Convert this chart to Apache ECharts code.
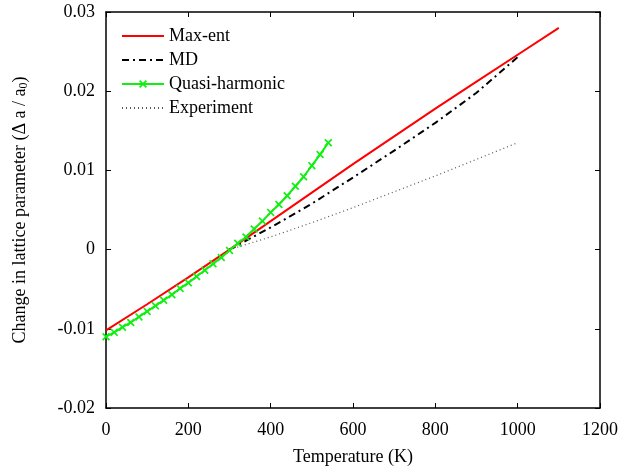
<!DOCTYPE html>
<html>
<head>
<meta charset="utf-8">
<script src="https://cdn.jsdelivr.net/npm/echarts@6/dist/echarts.min.js"></script>
<style>
  html, body { margin: 0; padding: 0; background: #fff; }
  #chart { width: 623px; height: 475px; }
</style>
</head>
<body>
<div id="chart"></div>
<script>
// values
const maxEntT = [0, 100, 200, 300, 400, 500, 600, 700, 800, 900, 1000, 1100];
const maxEntV = [-0.0102, -0.0069, -0.0035, 0.0000, 0.0036, 0.0072, 0.0108, 0.0143, 0.0178, 0.0212, 0.0246, 0.0280];

const mdT = [300, 400, 500, 600, 700, 800, 900, 1000];
const mdV = [0.0000, 0.0028, 0.0058, 0.0091, 0.0125, 0.0160, 0.0198, 0.0243];

const qhT = [0, 20, 40, 60, 80, 100, 120, 140, 160, 180, 200, 220, 240, 260,
             280, 300, 320, 340, 360, 380, 400, 420, 440, 460, 480, 500, 520, 540];
const qhV = [-0.0110, -0.01045, -0.0098, -0.0092, -0.0085, -0.0078, -0.0071, -0.0064,
             -0.0057, -0.0049, -0.0042, -0.0034, -0.0026, -0.0018, -0.0010, -0.0001,
             0.0008, 0.0016, 0.0026, 0.0036, 0.0047, 0.0057, 0.0068, 0.0080, 0.0092,
             0.0106, 0.0120, 0.0135];

const expT = [300, 400, 500, 600, 700, 800, 900, 1000];
const expV = [0.0000, 0.0016, 0.0034, 0.0053, 0.0073, 0.0093, 0.0114, 0.0135];

const xTicks = [0, 200, 400, 600, 800, 1000, 1200];
const yTicks = [-0.02, -0.01, 0, 0.01, 0.02, 0.03];

const font = 'Liberation Serif';
const zip = (a, b) => a.map((t, i) => [t, b[i]]);
const xMark = 'path://M1.5,0 L5,3.5 L8.5,0 L10,1.5 L6.5,5 L10,8.5 L8.5,10 L5,6.5 L1.5,10 L0,8.5 L3.5,5 L0,1.5 Z';

const chart = echarts.init(document.getElementById('chart'));

const axisLine = { show: true, onZero: false, lineStyle: { color: '#000', width: 1.5 } };
const tick = { show: true, inside: true, length: 5, lineStyle: { color: '#000', width: 1 } };
const noMark = { opacity: 0 };

chart.setOption({
    animation: false,
    backgroundColor: '#fff',
    grid: { left: 106, right: 23, top: 12, bottom: 67 },
    legend: {
        orient: 'vertical',
        left: 116,
        top: 22,
        itemWidth: 42,
        itemHeight: 10,
        itemGap: 6,
        textStyle: { fontFamily: font, fontSize: 18, color: '#000' },
        data: [
            { name: 'Max-ent', itemStyle: noMark },
            { name: 'MD', itemStyle: noMark },
            { name: 'Quasi-harmonic' },
            { name: 'Experiment', itemStyle: noMark }
        ]
    },
    xAxis: [{
        type: 'value', min: xTicks[0], max: xTicks[xTicks.length - 1], interval: 200,
        name: 'Temperature (K)', nameLocation: 'middle', nameGap: 40,
        nameTextStyle: { fontFamily: font, fontSize: 18, color: '#000' },
        axisLine: axisLine, axisTick: tick, splitLine: { show: false },
        axisLabel: { fontFamily: font, fontSize: 18, color: '#000', margin: 13, formatter: v => String(v) }
    }, {
        type: 'value', position: 'top', min: 0, max: 1200, interval: 200,
        axisLine: axisLine, axisTick: tick, splitLine: { show: false },
        axisLabel: { show: false }
    }],
    yAxis: [{
        type: 'value', min: yTicks[0], max: yTicks[yTicks.length - 1], interval: 0.01,
        name: '{n|Change in lattice parameter (Δ a / a}{s|0}{n|)}',
        nameLocation: 'middle', nameGap: 76, nameRotate: 90,
        nameTextStyle: {
            color: '#000',
            rich: {
                n: { fontFamily: font, fontSize: 18, color: '#000' },
                s: { fontFamily: font, fontSize: 12, color: '#000', padding: [8, 0, 0, 0] }
            }
        },
        axisLine: axisLine, axisTick: tick, splitLine: { show: false },
        axisLabel: {
            fontFamily: font, fontSize: 18, color: '#000', margin: 11,
            formatter: v => Math.abs(v) < 1e-9 ? '0' : v.toFixed(2)
        }
    }, {
        type: 'value', position: 'right', min: -0.02, max: 0.03, interval: 0.01,
        axisLine: axisLine, axisTick: tick, splitLine: { show: false },
        axisLabel: { show: false }
    }],
    series: [{
        name: 'Max-ent', type: 'line', data: zip(maxEntT, maxEntV),
        showSymbol: false, symbol: 'none',
        lineStyle: { color: '#ff0000', width: 2 }, itemStyle: { color: '#ff0000' }, z: 3
    }, {
        name: 'MD', type: 'line', data: zip(mdT, mdV),
        showSymbol: false, symbol: 'none',
        lineStyle: { color: '#000', width: 2, type: [7, 4, 2, 4] }, itemStyle: { color: '#000' }, z: 2
    }, {
        name: 'Quasi-harmonic', type: 'line', data: zip(qhT, qhV),
        symbol: xMark, symbolSize: 8,
        lineStyle: { color: '#11ee11', width: 2 }, itemStyle: { color: '#11ee11' }, z: 4
    }, {
        name: 'Experiment', type: 'line', data: zip(expT, expV),
        showSymbol: false, symbol: 'none',
        lineStyle: { color: '#555', width: 1.2, type: [1, 3] }, itemStyle: { color: '#555' }, z: 1
    }]
});
</script>
</body>
</html>
